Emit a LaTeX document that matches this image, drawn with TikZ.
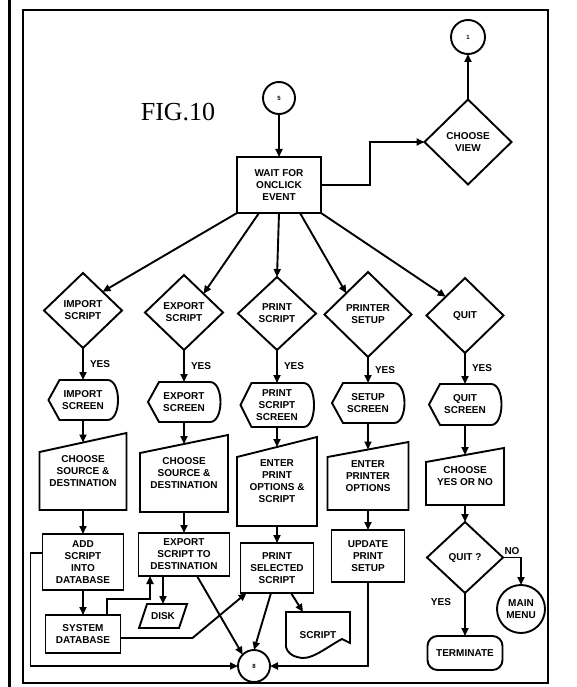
\documentclass[tikz,border=0pt]{standalone}
\usepackage{fontspec}
\setmainfont{Liberation Sans}
\newfontfamily\figfont{Liberation Serif}
\usetikzlibrary{arrows.meta,shapes.geometric,calc}
\newcommand\dispoutline[1]{\draw ([xshift=11pt]#1.north west) -- ([xshift=-10pt]#1.north east) .. controls ([xshift=4pt]#1.north east) and ([xshift=4pt]#1.south east) .. ([xshift=-10pt]#1.south east) -- ([xshift=11pt]#1.south west) -- (#1.west) -- cycle;}
\newcommand\manoutline[2]{\draw (#1.north east) -- (#1.south east) -- (#1.south west) -- ([yshift=-#2pt]#1.north west) -- cycle;
  \coordinate (#1-top) at ($(#1.north east)!0.5!([yshift=-#2pt]#1.north west)$);}
\begin{document}
\begin{tikzpicture}[x=1pt,y=-1pt,line width=1.9pt,
  >={Triangle[length=8pt,width=7pt]},
  txt/.style={font=\bfseries\fontsize{10}{12}\selectfont, align=center, inner sep=0pt, outer sep=0pt},
  procbox/.style={txt, draw, rectangle},
  decision/.style={txt, draw, diamond},
  ghost/.style={txt, rectangle},
  conn/.style={txt, draw, circle, font=\bfseries\fontsize{6}{7}\selectfont},
  termbox/.style={txt, draw, rectangle, rounded corners=10pt},
  yes/.style={txt, right=7pt},
  flow/.style={->}
]
\useasboundingbox (0,0) rectangle (577,687);
% frame
\draw[line width=2.2pt] (23,10) rectangle (548,683);
\draw[line width=3pt] (9,0) -- (9,687);

\node[font=\figfont\fontsize{26}{30}\selectfont] (fig) at (178,112) {FIG.10};

% top
\node[conn, minimum size=32pt] (top5) at (279,98) {5};
\node[conn, minimum size=34pt] (c1) at (468,37) {1};
\node[procbox, minimum width=84pt, minimum height=56pt] (wait) at (279,185) {WAIT FOR\\ONCLICK\\EVENT};
\node[decision, minimum width=87pt, minimum height=85pt] (view) at (468,142) {CHOOSE\\VIEW};

% decisions
\node[decision, minimum width=78pt, minimum height=75pt] (imp) at (83,310.5) {IMPORT\\SCRIPT};
\node[decision, minimum width=78pt, minimum height=75pt] (exp) at (184,312.5) {EXPORT\\SCRIPT};
\node[decision, minimum width=78pt, minimum height=73pt] (prt) at (277,313.5) {PRINT\\SCRIPT};
\node[decision, minimum width=87pt, minimum height=85pt] (pset) at (368,314.5) {PRINTER\\SETUP};
\node[decision, minimum width=77pt, minimum height=75pt] (quit) at (465,315.5) {QUIT};

% screens
\node[ghost, minimum width=69pt, minimum height=40pt] (imps) at (83,400) {IMPORT\\SCREEN};
\node[ghost, minimum width=72pt, minimum height=40pt] (exps) at (184,402) {EXPORT\\SCREEN};
\node[ghost, minimum width=73pt, minimum height=44pt] (prts) at (277,405) {PRINT\\SCRIPT\\SCREEN};
\node[ghost, minimum width=72pt, minimum height=40pt] (sets) at (368,403) {SETUP\\SCREEN};
\node[ghost, minimum width=72pt, minimum height=41pt] (quits) at (465,404.5) {QUIT\\SCREEN};
\dispoutline{imps}
\dispoutline{exps}
\dispoutline{prts}
\dispoutline{sets}
\dispoutline{quits}

% manual inputs
\node[ghost, minimum width=87pt, minimum height=77pt] (imc) at (83,471.5) {CHOOSE\\SOURCE \&\\DESTINATION};
\node[ghost, minimum width=88pt, minimum height=77pt] (exc) at (184,473.5) {CHOOSE\\SOURCE \&\\DESTINATION};
\node[ghost, minimum width=80pt, minimum height=89pt] (prc) at (277,481.5) {ENTER\\PRINT\\OPTIONS \&\\SCRIPT};
\node[ghost, minimum width=81pt, minimum height=68pt] (pec) at (368,476) {ENTER\\PRINTER\\OPTIONS};
\node[ghost, minimum width=78pt, minimum height=57pt] (qc) at (465,476.5) {CHOOSE\\YES OR NO};
\manoutline{imc}{19}
\manoutline{exc}{18}
\manoutline{prc}{20}
\manoutline{pec}{15}
\manoutline{qc}{14}

% process boxes
\node[procbox, minimum width=81pt, minimum height=56pt] (add) at (83,562) {ADD\\SCRIPT\\INTO\\DATABASE};
\node[procbox, minimum width=91pt, minimum height=43pt] (expd) at (184,554.5) {EXPORT\\SCRIPT TO\\DESTINATION};
\node[procbox, minimum width=73pt, minimum height=50pt] (prsel) at (277,568) {PRINT\\SELECTED\\SCRIPT};
\node[procbox, minimum width=73pt, minimum height=52pt] (upd) at (368,556) {UPDATE\\PRINT\\SETUP};
\node[procbox, minimum width=75pt, minimum height=38pt] (sysdb) at (83,634) {SYSTEM\\DATABASE};
\node[ghost, minimum width=48pt, minimum height=24pt] (disk) at (163,616) {DISK};
\draw ([xshift=8pt]disk.north west) -- (disk.north east) -- ([xshift=-8pt]disk.south east) -- (disk.south west) -- cycle;
\node[ghost, minimum width=64pt, minimum height=46pt] (script) at (318,635) {SCRIPT};
\draw (script.north west) -- (script.north east) -- ([yshift=15pt]script.south east)
  -- ([xshift=-8pt,yshift=19pt]script.south east)
  .. controls ([xshift=-25pt,yshift=10pt]script.south east) and ([xshift=-40pt,yshift=-4pt]script.south east) .. ([xshift=11pt,yshift=1pt]script.south west)
  .. controls ([xshift=6pt,yshift=2pt]script.south west) and ([xshift=1pt,yshift=6pt]script.south west) .. ([yshift=11pt]script.south west) -- cycle;
\node[conn, minimum size=32pt] (bot8) at (254,666) {8};
\node[decision, minimum width=76pt, minimum height=71pt] (qq) at (465,557.5) {QUIT ?};
\node[conn, minimum size=48pt, font=\bfseries\fontsize{10}{12}\selectfont] (mm) at (521,609) {MAIN\\MENU};
\node[termbox, minimum width=75pt, minimum height=34pt] (term) at (465,653) {TERMINATE};

% connectors
\draw[flow] (top5) -- (wait);
\draw[flow] (wait.east) -- ++(49pt,0pt) |- (view.west);
\draw[flow] (view.north) -- (c1.south);
\draw[flow] (wait.south west) -- (imp.north east);
\draw[flow] ([xshift=22pt]wait.south west) -- (exp.north east);
\draw[flow] (wait.south) -- (prt.north);
\draw[flow] ([xshift=-21pt]wait.south east) -- (pset.north west);
\draw[flow] (wait.south east) -- (quit.north west);

\draw[flow] (imp.south) -- node[yes] {YES} (imps.north);
\draw[flow] (exp.south) -- node[yes] {YES} (exps.north);
\draw[flow] (prt.south) -- node[yes] {YES} (prts.north);
\draw[flow] (pset.south) -- node[yes] {YES} (sets.north);
\draw[flow] (quit.south) -- node[yes] {YES} (quits.north);

\draw[flow] (imps.south) -- (imc-top);
\draw[flow] (exps.south) -- (exc-top);
\draw[flow] (prts.south) -- (prc-top);
\draw[flow] (sets.south) -- (pec-top);
\draw[flow] (quits.south) -- (qc-top);

\draw[flow] (imc.south) -- (add.north);
\draw[flow] (exc.south) -- (expd.north);
\draw[flow] (prc.south) -- (prsel.north);
\draw[flow] (pec.south) -- (upd.north);
\draw[flow] (qc.south) -- (qq.north);

\draw[flow] (add.south) -- (sysdb.north);
\draw[flow] (expd.south -| disk.north) -- (disk.north);
\draw[flow] ([xshift=24pt]sysdb.north) -- ++(0pt,16pt) -| ([xshift=-34pt]expd.south);
\draw[flow] ([yshift=-4pt]sysdb.east) -- ++(72pt,0pt) -- ([xshift=6pt]prsel.south west);
\draw[flow] ([yshift=9pt]add.west) -- ++(-12pt,0pt) |- (bot8.west);
\draw[flow] ([xshift=13pt]expd.south) -- (bot8.north west);
\draw[flow] ([xshift=-6pt]prsel.south) -- (bot8.north);
\draw[flow] ([xshift=14pt]prsel.south) -- ([xshift=-15pt]script.north);
\draw[flow] (upd.south) |- (bot8.east);

\draw[flow] (qq.east) -| node[txt, pos=0.25, above=3pt] {NO} (mm.north);
\draw[flow] (qq.south) -- node[txt, pos=0.2, left=14pt] {YES} (term.north);
\end{tikzpicture}
\end{document}
